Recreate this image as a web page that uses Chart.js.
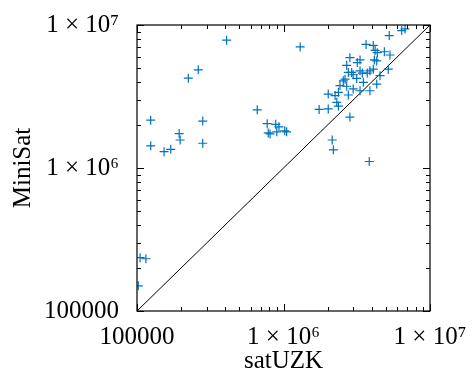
<!DOCTYPE html>
<html>
<head>
<meta charset="utf-8">
<script src="https://cdn.jsdelivr.net/npm/chart.js@4"></script>
<style>
  body { margin: 0; background: #fff; }
  #wrap { width: 472px; height: 380px; }
</style>
</head>
<body>
<div id="wrap"><canvas id="myChart"></canvas></div>
<script>
// runtimes (satUZK vs MiniSat)
const satUZK = [
  4.09e5, 1.30e6, 2.62e5, 2.24e5, 6.62e5, 1.24e5, 2.81e5, 7.74e5, 8.85e5, 9.31e5,
  1.94e5, 7.87e5, 8.09e5, 9.0e5, 1.02e6, 1.05e6, 1.97e5, 1.24e5, 2.81e5, 1.70e5,
  1.53e5, 1.05e5, 1.15e5, 1.02e5, 2.84e6, 2.15e6, 2.19e6, 3.85e6,
  6.75e6, 6.41e6, 5.27e6, 3.66e6, 4.10e6, 4.22e6, 4.37e6, 4.88e6, 5.33e6, 2.84e6,
  3.33e6, 3.19e6, 4.17e6, 4.33e6, 2.70e6, 2.77e6, 2.92e6, 2.99e6, 3.33e6, 3.45e6,
  3.89e6, 3.73e6, 4.10e6, 5.19e6, 4.56e6, 2.63e6, 2.56e6, 3.16e6, 3.51e6, 4.33e6,
  2.43e6, 2.70e6, 2.99e6, 3.33e6, 3.89e6, 2.37e6, 2.02e6, 2.25e6, 2.77e6, 2.31e6,
  2.37e6, 1.75e6, 2.02e6
];
const miniSat = [
  7.83e6, 7.02e6, 4.86e6, 4.25e6, 2.55e6, 2.16e6, 2.13e6, 2.04e6, 2.02e6, 1.94e6,
  1.74e6, 1.76e6, 1.73e6, 1.79e6, 1.82e6, 1.79e6, 1.57e6, 1.43e6, 1.49e6, 1.35e6,
  1.30e6, 2.36e5, 2.32e5, 1.50e5, 2.27e6, 1.57e6, 1.34e6, 1.11e6,
  9.38e6, 9.14e6, 8.43e6, 7.31e6, 7.20e6, 6.64e6, 6.40e6, 6.50e6, 6.17e6, 5.91e6,
  5.70e6, 5.46e6, 5.70e6, 5.61e6, 5.22e6, 4.66e6, 4.66e6, 4.49e6, 4.78e6, 4.61e6,
  4.78e6, 4.61e6, 4.91e6, 4.91e6, 4.42e6, 4.18e6, 4.07e6, 4.23e6, 3.97e6, 3.86e6,
  3.77e6, 3.73e6, 3.57e6, 3.47e6, 3.47e6, 3.38e6, 3.29e6, 3.21e6, 3.24e6, 2.88e6,
  2.71e6, 2.57e6, 2.59e6
];
const axisMin = 1e5;
const axisMax = 1e7;
const majorTicks = [1e5, 1e6, 1e7];
const tickLabels = ["100000", "1 × 10⁶", "1 × 10⁷"];

const serif = "'Liberation Serif', 'DejaVu Serif', serif";

const points = satUZK.map((x, i) => ({ x: x, y: miniSat[i] }));

// frame + inside ticks on all four sides
const framePlugin = {
  id: "frame",
  afterDatasetsDraw(chart) {
    const { ctx, chartArea: a, scales } = chart;
    ctx.save();
    ctx.strokeStyle = "#000";
    ctx.lineWidth = 1;
    for (let e = 5; e <= 7; e++) {
      for (let m = 1; m <= 9; m++) {
        const v = m * Math.pow(10, e);
        if (v > axisMax) break;
        const len = m === 1 ? 7 : 4;
        const px = Math.round(scales.x.getPixelForValue(v)) + 0.5;
        const py = Math.round(scales.y.getPixelForValue(v)) + 0.5;
        ctx.beginPath();
        ctx.moveTo(px, a.bottom); ctx.lineTo(px, a.bottom - len);
        ctx.moveTo(px, a.top); ctx.lineTo(px, a.top + len);
        ctx.moveTo(a.left, py); ctx.lineTo(a.left + len, py);
        ctx.moveTo(a.right, py); ctx.lineTo(a.right - len, py);
        ctx.stroke();
      }
    }
    ctx.lineWidth = 1.2;
    ctx.strokeRect(a.left, a.top, a.right - a.left, a.bottom - a.top);
    ctx.restore();
  }
};

function fixedTicks(scale) {
  scale.ticks = majorTicks.map(v => ({ value: v }));
}

new Chart("myChart", {
  type: "scatter",
  data: {
    datasets: [
      {
        label: "runs",
        data: points,
        pointStyle: "cross",
        pointRadius: 4.5,
        pointBorderWidth: 1.2,
        borderColor: "rgb(0,114,189)",
        backgroundColor: "rgb(0,114,189)",
      },
      {
        label: "x = y",
        data: [{ x: axisMin, y: axisMin }, { x: axisMax, y: axisMax }],
        showLine: true,
        pointRadius: 0,
        borderColor: "#000",
        borderWidth: 1,
      },
    ],
  },
  options: {
    responsive: true,
    maintainAspectRatio: false,
    animation: false,
    layout: { padding: { top: 22, right: 42, left: 0, bottom: 0 } },
    plugins: {
      legend: { display: false },
      tooltip: { enabled: false },
    },
    scales: {
      x: {
        type: "logarithmic",
        min: axisMin,
        max: axisMax,
        afterBuildTicks: fixedTicks,
        afterFit(scale) { scale.height = 69; },
        grid: { display: false },
        border: { display: false },
        ticks: {
          color: "#000",
          padding: 3,
          maxRotation: 0,
          autoSkip: false,
          font: { family: serif, size: 25 },
          callback: (v) => tickLabels[majorTicks.indexOf(v)],
        },
        title: {
          display: true,
          text: "satUZK",
          color: "#000",
          font: { family: serif, size: 25 },
          padding: { top: 0, bottom: 4 },
        },
      },
      y: {
        type: "logarithmic",
        min: axisMin,
        max: axisMax,
        afterBuildTicks: fixedTicks,
        afterFit(scale) { scale.width = 137; },
        grid: { display: false },
        border: { display: false },
        ticks: {
          color: "#000",
          padding: 10,
          autoSkip: false,
          font: { family: serif, size: 25 },
          callback: (v) => tickLabels[majorTicks.indexOf(v)],
        },
        title: {
          display: true,
          text: "MiniSat",
          color: "#000",
          font: { family: serif, size: 25 },
          padding: { top: 8, bottom: 0 },
        },
      },
    },
  },
  plugins: [framePlugin],
});
</script>
</body>
</html>
